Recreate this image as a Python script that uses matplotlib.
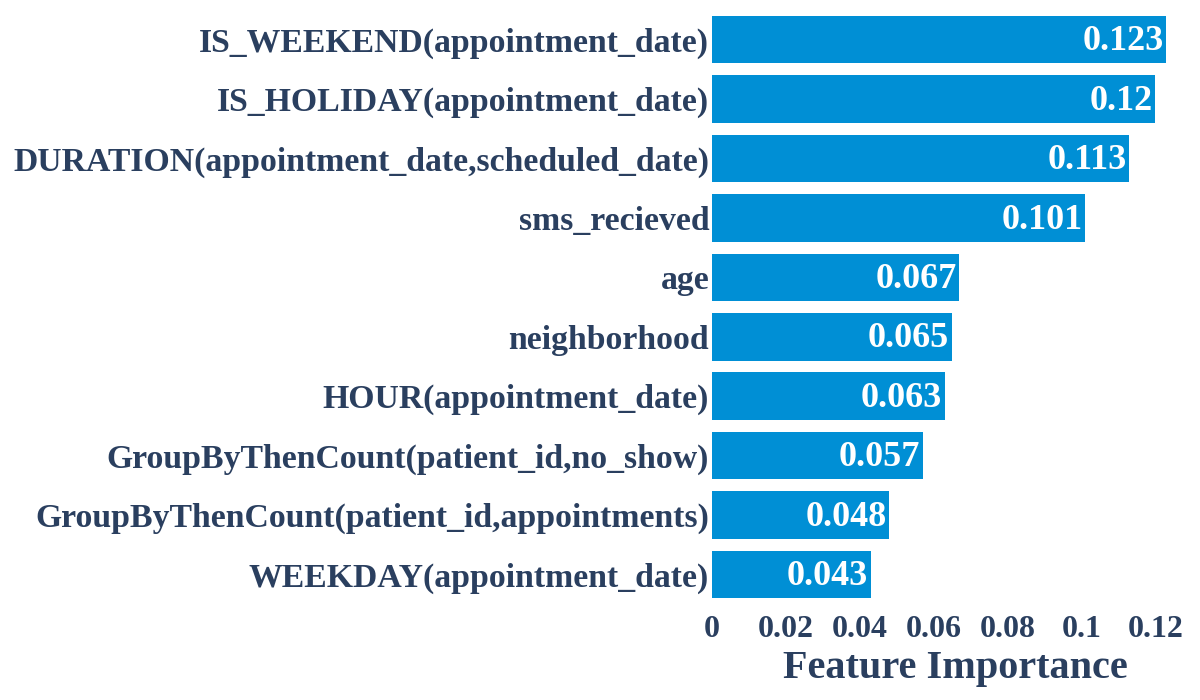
import matplotlib.pyplot as plt

# dados
features = [
    "IS_WEEKEND(appointment_date)",
    "IS_HOLIDAY(appointment_date)",
    "DURATION(appointment_date,scheduled_date)",
    "sms_recieved",
    "age",
    "neighborhood",
    "HOUR(appointment_date)",
    "GroupByThenCount(patient_id,no_show)",
    "GroupByThenCount(patient_id,appointments)",
    "WEEKDAY(appointment_date)",
]
importance = [0.123, 0.12, 0.113, 0.101, 0.067, 0.065, 0.063, 0.057, 0.048, 0.043]
value_labels = ["0.123", "0.12", "0.113", "0.101", "0.067", "0.065", "0.063", "0.057", "0.048", "0.043"]
xticks = [0, 0.02, 0.04, 0.06, 0.08, 0.1, 0.12]
xtick_labels = ["0", "0.02", "0.04", "0.06", "0.08", "0.1", "0.12"]

bar_color = "#008FD5"
text_color = "#2A3F5F"

plt.rcParams["font.family"] = ["Liberation Serif", "DejaVu Serif"]
plt.rcParams["font.weight"] = "bold"

fig = plt.figure(figsize=(12, 7), dpi=100)
ax = fig.add_axes([0.5933, 0.137, 0.39, 0.8487])

pos = list(range(len(features)))
bars = ax.barh(pos, importance, height=0.8, color=bar_color)
ax.set_ylim(len(features) - 0.5, -0.5)
ax.set_xlim(0, 0.1267)

ax.set_yticks(pos)
ax.set_yticklabels(features, fontsize=24.3, fontweight="bold", color=text_color)
ax.set_xticks(xticks)
ax.set_xticklabels(xtick_labels, fontsize=23, fontweight="bold", color=text_color)
ax.tick_params(axis="both", length=0)
ax.tick_params(axis="x", pad=8)
ax.tick_params(axis="y", pad=2)
for s in ax.spines.values():
    s.set_visible(False)

xl = ax.set_xlabel("Feature Importance", fontsize=29, fontweight="bold", color=text_color, labelpad=4)
xl.set_x(0.52)

for bar, lab in zip(bars, value_labels):
    ax.annotate(lab, (bar.get_width(), bar.get_y() + bar.get_height() / 2),
                xytext=(-2, -1.5), textcoords="offset points",
                ha="right", va="center", color="white",
                fontsize=26, fontweight="bold")

fig.savefig("out.png", dpi=100)
